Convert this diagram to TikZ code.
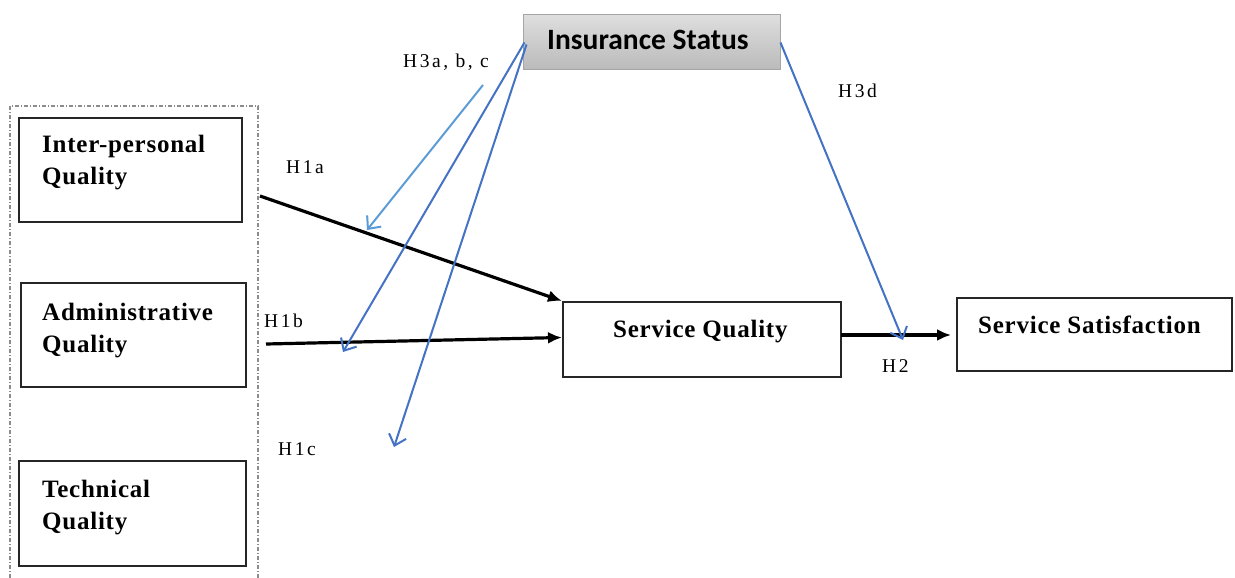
\documentclass[tikz,border=0pt]{standalone}
\usepackage{fontspec}
\setmainfont{Liberation Serif}
\newfontfamily\calib{Carlito}
\newfontfamily\spacedserif[LetterSpace=3]{Liberation Serif}
\newfontfamily\labelserif[LetterSpace=13]{Liberation Serif}
\usetikzlibrary{arrows.meta,calc}
\definecolor{bluearr}{HTML}{4472C4}
\definecolor{lightarr}{HTML}{5B9BD5}
\tikzset{
  box/.style={draw=black!85, line width=2pt, rectangle, inner sep=0pt},
  boxtext/.style={font=\spacedserif\fontsize{25}{32}\selectfont\bfseries, anchor=base west, inner sep=0pt, align=left},
  hlabel/.style={font=\labelserif\fontsize{19.5}{22}\selectfont, anchor=base west, inner sep=0pt},
  blackarrow/.style={line width=3.2pt, -{Latex[length=14pt,width=12pt]}},
  bluearrow/.style={draw=bluearr, line width=2pt, -{Straight Barb[length=10pt,width=18pt,line width=2pt]}},
  lightarrow/.style={draw=lightarr, line width=2pt, -{Straight Barb[length=10pt,width=18pt,line width=2pt]}},
}
\begin{document}
\begin{tikzpicture}[x=1pt,y=-1pt]
\useasboundingbox (0,0) rectangle (1235,578);
% dashed container
\draw[black!45, line width=1.2pt, dash pattern=on 4pt off 2pt on 1pt off 2pt] (10,578) -- (10,106) -- (258,106) -- (258,578);
% boxes
\node[box, minimum width=223pt, minimum height=104pt] (ip) at (130.5,170) {};
\node[box, minimum width=225pt, minimum height=104pt] (aq) at (133.5,335) {};
\node[box, minimum width=227pt, minimum height=105pt] (tq) at (132.5,513.5) {};
\node[draw=black!35, line width=1pt, top color=black!13, bottom color=black!27, minimum width=257pt, minimum height=55pt, inner sep=0pt] (ins) at (651.5,42.5) {};
\node[box, minimum width=278pt, minimum height=75pt] (sq) at (702,339.5) {};
\node[box, minimum width=275pt, minimum height=73pt] (ss) at (1094.5,334.5) {};
% texts (base anchor = last line)
\node[boxtext] (tip) at (42,184) {Inter-personal\\Quality};
\node[boxtext] (taq) at (42,352) {Administrative\\Quality};
\node[boxtext] (ttq) at (42,529) {Technical\\Quality};
\node[font=\calib\fontsize{29.5}{31}\selectfont\bfseries, anchor=base west, inner sep=0pt] (tins) at (547,50) {Insurance Status};
\node[boxtext] (tsq) at (613,337) {Service Quality};
\node[boxtext] (tss) at (978,333) {Service Satisfaction};
% labels
\node[hlabel] (l3abc) at (403,68) {H3a, b, c};
\node[hlabel] (l3d) at (838,97) {H3d};
\node[hlabel] (l1a) at (286,173) {H1a};
\node[hlabel] (l1b) at (264,327) {H1b};
\node[hlabel] (l1c) at (278,455) {H1c};
\node[hlabel] (l2) at (882,372) {H2};
% coordinates
\coordinate (h1as) at (260,196);
\coordinate (h1bs) at (266,344);
\coordinate (h2s) at (841,335);
\coordinate (h2e) at (951,335);
\coordinate (lbs) at (483,85);
\coordinate (lbe) at (367,230);
\coordinate (b2e) at (343,352);
\coordinate (b3e) at (394,447);
\coordinate (h3de) at (903,340);
% black arrows
\draw[blackarrow] (h1as) -- (sq.north west);
\draw[blackarrow] (h1bs) -- ($(sq.west)+(0,-2)$);
\draw[blackarrow] (h2s) -- (h2e);
% blue arrows
\draw[lightarrow] (lbs) -- (lbe);
\draw[bluearrow] ($(ins.west)+(2,0)$) -- (b2e);
\draw[bluearrow] ($(ins.west)+(4,2)$) -- (b3e);
\draw[bluearrow] (ins.east) -- (h3de);
\end{tikzpicture}
\end{document}
